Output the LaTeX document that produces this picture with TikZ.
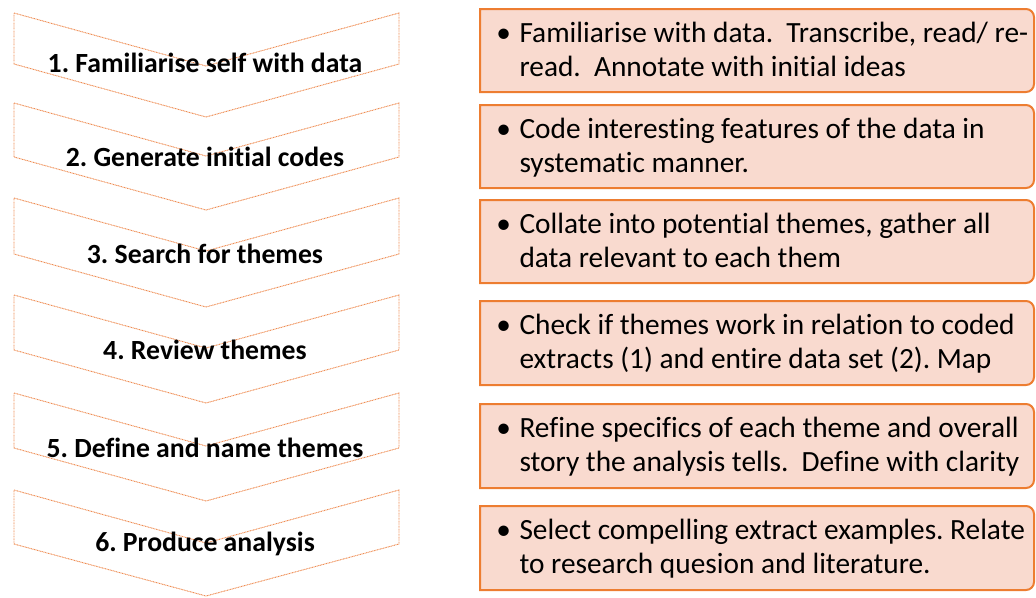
\documentclass[tikz,border=0pt]{standalone}
\usepackage{fontspec}
\setmainfont{Carlito}[Ligatures=NoCommon]
\usepackage{tikz}
\usetikzlibrary{backgrounds}
\definecolor{accentorange}{RGB}{237,125,49}
\definecolor{chevronline}{RGB}{238,140,82}
\definecolor{notefill}{RGB}{249,218,207}

\tikzset{
  chevron/.style={draw=chevronline, dash pattern=on 0.7pt off 0.5pt, line width=0.7pt},
  steplabel/.style={font=\fontsize{20.8}{24}\selectfont\bfseries, inner sep=0pt},
  notebox/.style={draw=accentorange, fill=notefill, line width=1.5pt},
  notetext/.style={font=\fontsize{22}{25.5}\selectfont, anchor=west, inner sep=0pt, align=left}
}
\newcommand{\notelines}[2]{\begin{tabular}{@{}l@{\hspace{6.5pt}}l@{}}\textbullet & #1\\ & #2\end{tabular}}

\begin{document}
\frenchspacing
\begin{tikzpicture}[x=0.75pt, y=-0.75pt]
\useasboundingbox (0,0) rectangle (1036,597);
% chevrons on the left
\draw[chevron] (14,13) -- (206,66) -- (399,13) -- (399,64) -- (206,117) -- (14,64) -- cycle;
\draw[chevron] (14,103) -- (206,156) -- (399,103) -- (399,157) -- (206,210) -- (14,157) -- cycle;
\draw[chevron] (14,198) -- (206,251) -- (399,198) -- (399,254) -- (206,307) -- (14,254) -- cycle;
\draw[chevron] (14,295) -- (206,348) -- (399,295) -- (399,350) -- (206,403) -- (14,350) -- cycle;
\draw[chevron] (14,393) -- (206,446) -- (399,393) -- (399,448) -- (206,501) -- (14,448) -- cycle;
\draw[chevron] (14,490) -- (206,543) -- (399,490) -- (399,544) -- (206,596) -- (14,544) -- cycle;
\node[steplabel] (s1) at (205,63) {1. Familiarise self with data};
\node[steplabel] (s2) at (205,157) {2. Generate initial codes};
\node[steplabel] (s3) at (205,254) {3. Search for themes};
\node[steplabel] (s4) at (205,350) {4. Review themes};
\node[steplabel] (s5) at (205,448) {5. Define and name themes};
\node[steplabel] (s6) at (205,544) {6. Produce analysis};
% boxes on the right
\draw[notebox] (480,9) [rounded corners=6pt] -- (1034,9) -- (1034,92) [sharp corners] -- (480,92) -- cycle;
\draw[notebox] (480,105) [rounded corners=6pt] -- (1034,105) -- (1034,188) [sharp corners] -- (480,188) -- cycle;
\draw[notebox] (480,200) [rounded corners=6pt] -- (1034,200) -- (1034,283) [sharp corners] -- (480,283) -- cycle;
\draw[notebox] (480,301) [rounded corners=6pt] -- (1034,301) -- (1034,385) [sharp corners] -- (480,385) -- cycle;
\draw[notebox] (480,404) [rounded corners=6pt] -- (1034,404) -- (1034,488) [sharp corners] -- (480,488) -- cycle;
\draw[notebox] (480,506) [rounded corners=6pt] -- (1034,506) -- (1034,590) [sharp corners] -- (480,590) -- cycle;
\node[notetext] (n1) at (496,52.5) {\notelines{Familiarise with data.\ \ Transcribe, read/ re-}{read.\ \ Annotate with initial ideas}};
\node[notetext] (n2) at (496,148.5) {\notelines{Code interesting features of the data in}{systematic manner.}};
\node[notetext] (n3) at (496,243.5) {\notelines{Collate into potential themes, gather all}{data relevant to each them}};
\node[notetext] (n4) at (496,345) {\notelines{Check if themes work in relation to coded}{extracts (1) and entire data set (2). Map}};
\node[notetext] (n5) at (496,448) {\notelines{Refine specifics of each theme and overall}{story the analysis tells.\ \ Define with clarity}};
\node[notetext] (n6) at (496,550) {\notelines{Select compelling extract examples. Relate}{to research quesion and literature.}};
\end{tikzpicture}
\end{document}
